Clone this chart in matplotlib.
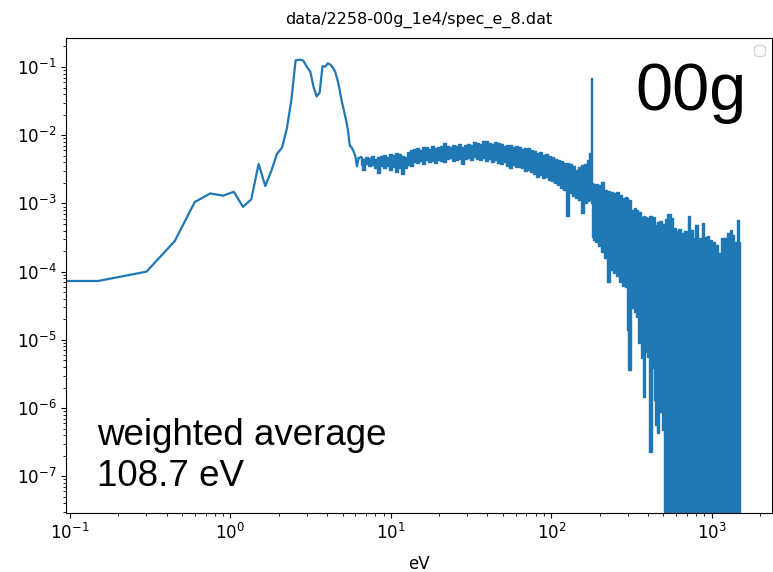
import warnings
import numpy as np
import matplotlib
matplotlib.use("Agg")
import matplotlib.pyplot as plt

warnings.filterwarnings("ignore")

title = "data/2258-00g_1e4/spec_e_8.dat"
tag = "00g"
avg_label = "weighted average\n108.7 eV"

# sparse low-energy part of the spectrum (0.15 eV bins)
E_low = [0.0, 0.15, 0.30, 0.45, 0.60, 0.75, 0.90, 1.05, 1.20, 1.35, 1.50, 1.65,
         1.80, 1.95, 2.10, 2.25, 2.40, 2.55, 2.70, 2.85, 3.00, 3.15, 3.30, 3.45,
         3.60, 3.75, 3.90, 4.05, 4.20, 4.35, 4.50, 4.65, 4.80, 4.95, 5.10, 5.25,
         5.40, 5.55, 5.70, 5.85, 6.00, 6.15, 6.30]
y_low = [7.3e-5, 7.3e-5, 1.0e-4, 2.8e-4, 1.05e-3, 1.4e-3, 1.3e-3, 1.48e-3, 8.9e-4,
         1.15e-3, 3.8e-3, 1.8e-3, 3.0e-3, 5.3e-3, 6.6e-3, 1.26e-2, 3.3e-2, 0.125,
         0.128, 0.124, 0.10, 0.085, 0.051, 0.037, 0.042, 0.103, 0.101, 0.113,
         0.108, 0.098, 0.085, 0.065, 0.046, 0.031, 0.023, 0.017, 0.012, 7.0e-3,
         6.6e-3, 5.8e-3, 5.0e-3, 3.5e-3, 4.6e-3]

# dense part: upper and lower envelope of the noisy bins at each energy
E_band = [
    6.51, 6.80, 7.10, 7.41, 7.73, 8.07, 8.42, 8.79, 9.18, 9.58,
    10.0, 10.4, 10.9, 11.4, 11.9, 12.4, 12.9, 13.5, 14.1, 14.7,
    15.4, 16.0, 16.7, 17.5, 18.2, 19.0, 19.9, 20.7, 21.6, 22.6,
    23.6, 24.6, 25.7, 26.8, 28.0, 29.2, 30.5, 31.8, 33.2, 34.7,
    36.2, 37.8, 39.5, 41.2, 43.0, 44.9, 46.9, 48.9, 51.1, 53.3,
    55.6, 58.1, 60.6, 63.3, 66.1, 69.0, 72.0, 75.1, 78.4, 81.9,
    85.5, 89.2, 93.1, 97.2, 101, 106, 110, 115, 120, 126,
    131, 137, 143, 149, 156, 163, 170, 174, 178, 181,
    185, 190, 199, 207, 216, 226, 236, 246, 257, 268,
    280, 292, 297, 305, 319, 332, 342, 352, 368, 378,
    389, 400, 418, 430, 440, 449, 462, 482, 496, 511,
    518, 541, 565, 589, 606, 633, 651, 690, 710, 720,
    752, 773, 807, 842, 867, 879, 918, 944, 986, 1028,
    1074, 1122, 1155, 1222, 1276, 1313, 1350, 1409, 1450, 1492,
    1500]
hi_band = [
    4.79e-3, 4.48e-3, 4.79e-3, 4.63e-3, 4.95e-3, 4.48e-3, 4.79e-3, 4.95e-3, 5.12e-3, 4.79e-3,
    5.30e-3, 5.12e-3, 5.48e-3, 5.30e-3, 4.95e-3, 4.79e-3, 5.67e-3, 6.07e-3, 6.27e-3, 6.49e-3,
    6.07e-3, 6.71e-3, 6.71e-3, 6.27e-3, 6.94e-3, 6.49e-3, 6.71e-3, 6.94e-3, 7.68e-3, 6.94e-3,
    6.71e-3, 7.18e-3, 6.94e-3, 7.43e-3, 6.71e-3, 7.18e-3, 7.43e-3, 7.18e-3, 7.95e-3, 7.68e-3,
    7.43e-3, 8.22e-3, 8.22e-3, 7.68e-3, 7.43e-3, 7.95e-3, 7.68e-3, 7.43e-3, 6.94e-3, 7.18e-3,
    7.18e-3, 6.71e-3, 6.94e-3, 6.71e-3, 6.27e-3, 6.49e-3, 6.49e-3, 6.07e-3, 5.86e-3, 5.48e-3,
    5.67e-3, 5.12e-3, 5.30e-3, 4.95e-3, 4.79e-3, 4.48e-3, 4.33e-3, 4.18e-3, 3.91e-3, 3.91e-3,
    3.78e-3, 3.54e-3, 3.09e-3, 3.42e-3, 3.66e-3, 3.78e-3, 4.33e-3, 5.48e-3, 0.069, 1.99e-3,
    1.93e-3, 1.93e-3, 1.86e-3, 2.06e-3, 1.57e-3, 1.52e-3, 1.47e-3, 1.43e-3, 1.47e-3, 1.33e-3,
    1.20e-3, 1.24e-3, 1.20e-3, 1.12e-3, 8.0e-4, 8.5e-4, 8.0e-4, 7.5e-4, 6.3e-4, 6.5e-4,
    6.3e-4, 6.1e-4, 6.5e-4, 6.3e-4, 6.3e-4, 4.8e-4, 5.3e-4, 5.6e-4, 5.0e-4, 4.6e-4,
    6.0e-4, 7.1e-4, 6.2e-4, 4.3e-4, 3.9e-4, 4.2e-4, 3.7e-4, 3.9e-4, 2.6e-4, 6.5e-4,
    4.1e-4, 3.1e-4, 4.8e-4, 3.1e-4, 2.9e-4, 5.1e-4, 3.2e-4, 3.3e-4, 2.9e-4, 2.75e-4,
    2.45e-4, 1.86e-4, 3.1e-4, 3.1e-4, 3.7e-4, 4.1e-4, 3.5e-4, 2.75e-4, 5.7e-4, 2.75e-4,
    2.3e-4]
lo_band = [
    3.66e-3, 3.09e-3, 3.78e-3, 3.54e-3, 3.66e-3, 3.30e-3, 2.79e-3, 3.54e-3, 3.30e-3, 3.54e-3,
    3.09e-3, 3.42e-3, 2.89e-3, 3.30e-3, 2.70e-3, 3.30e-3, 3.66e-3, 3.54e-3, 4.05e-3, 3.91e-3,
    4.18e-3, 3.78e-3, 4.33e-3, 4.05e-3, 4.18e-3, 3.91e-3, 4.33e-3, 4.18e-3, 4.05e-3, 4.48e-3,
    4.63e-3, 4.18e-3, 4.33e-3, 4.48e-3, 3.78e-3, 4.48e-3, 4.63e-3, 4.33e-3, 4.79e-3, 4.48e-3,
    4.33e-3, 4.63e-3, 4.18e-3, 4.48e-3, 4.05e-3, 4.33e-3, 3.91e-3, 3.78e-3, 4.05e-3, 3.54e-3,
    3.30e-3, 3.66e-3, 3.42e-3, 3.42e-3, 3.30e-3, 2.99e-3, 3.09e-3, 2.89e-3, 2.70e-3, 2.44e-3,
    2.61e-3, 2.36e-3, 2.44e-3, 2.20e-3, 2.13e-3, 1.99e-3, 1.86e-3, 1.68e-3, 1.57e-3, 6.5e-4,
    1.43e-3, 1.29e-3, 1.20e-3, 1.12e-3, 7.2e-4, 1.02e-3, 1.09e-3, 1.12e-3, 1.0e-3, 3.2e-4,
    2.9e-4, 2.7e-4, 2.37e-4, 1.94e-4, 1.59e-4, 7.0e-5, 1.05e-4, 9.5e-5, 8.6e-5, 7.0e-5,
    6.2e-5, 5.9e-5, 1.39e-5, 3.6e-6, 2.9e-5, 2.56e-5, 2.16e-5, 9.0e-6, 5.4e-6, 1.45e-6,
    6.6e-6, 5.6e-6, 2.26e-7, 3.9e-6, 1.31e-6, 5.6e-7, 4.3e-7, 8.7e-7, 4.75e-7, 0,
    0, 0, 0, 0, 0, 0, 0, 0, 0, 0,
    0, 0, 0, 0, 0, 0, 0, 0, 0, 0,
    0, 0, 0, 0, 0, 0, 0, 0, 0, 0,
    0]

color = "#1f77b4"

fig = plt.figure(figsize=(7.73, 5.72), dpi=100)
ax = fig.add_axes([0.0854, 0.1031, 0.9135, 0.8305])

ax.plot(E_low, y_low, color=color, lw=1.6)
ax.fill_between(E_band, lo_band, hi_band, step="mid", facecolor=color,
                edgecolor=color, lw=1.0)
# join the sparse part to the start of the dense band
ax.plot([E_low[-1], E_band[0]], [y_low[-1], hi_band[0]], color=color, lw=1.6)

ax.set_xscale("log")
ax.set_yscale("log")
ax.set_xlim(0.0946, 2377)
ax.set_ylim(2.9e-8, 0.266)
ax.tick_params(labelsize=12)
ax.set_title(title, fontsize=11.5, pad=10)
ax.set_xlabel("eV", fontsize=12, labelpad=9)
ax.legend()

ax.text(0.807, 0.848, tag, transform=ax.transAxes, fontsize=48,
        family="Liberation Sans", ha="left", va="baseline")
ax.text(0.044, 0.040, avg_label, transform=ax.transAxes, fontsize=26.5,
        family="Liberation Sans", ha="left", va="bottom", linespacing=1.22)

fig.savefig("out.png", dpi=100)
